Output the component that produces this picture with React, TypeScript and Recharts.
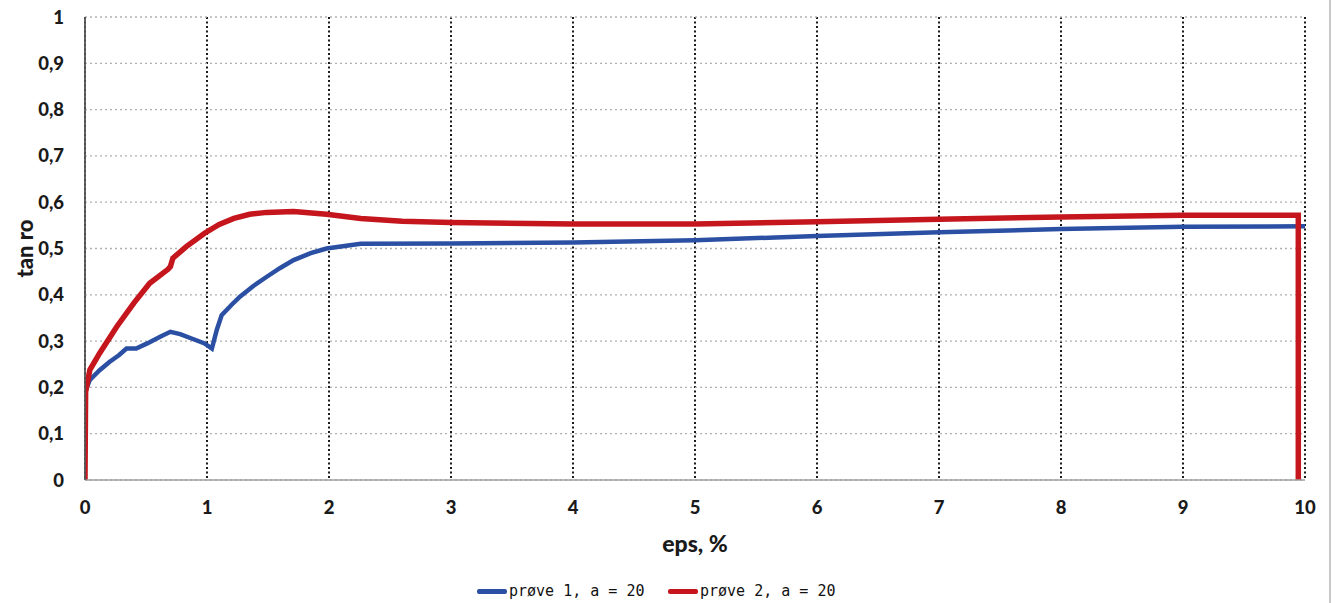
import React from 'react';
import { LineChart, Line, XAxis, YAxis, CartesianGrid, Legend } from 'recharts';

const blueX = [0, 0.04, 0.12, 0.2, 0.28, 0.34, 0.42, 0.51, 0.62, 0.7, 0.78, 0.89, 0.98, 1.04, 1.08, 1.12, 1.2, 1.27, 1.38, 1.49, 1.6, 1.71, 1.85, 1.98, 2.26, 3, 4, 5, 6, 7, 8, 9, 10];
const blueY = [0.19, 0.216, 0.237, 0.255, 0.27, 0.284, 0.284, 0.295, 0.31, 0.32, 0.315, 0.304, 0.295, 0.284, 0.324, 0.356, 0.378, 0.396, 0.419, 0.439, 0.458, 0.475, 0.49, 0.5, 0.51, 0.511, 0.513, 0.518, 0.527, 0.535, 0.542, 0.547, 0.548];

const redX = [0, 0.005, 0.04, 0.12, 0.26, 0.4, 0.53, 0.68, 0.7, 0.72, 0.83, 0.98, 1.1, 1.22, 1.35, 1.49, 1.71, 1.98, 2.26, 2.6, 3, 4, 5, 6, 7, 8, 9, 9.945, 9.945];
const redY = [0, 0.19, 0.238, 0.274, 0.331, 0.382, 0.425, 0.455, 0.461, 0.479, 0.504, 0.533, 0.552, 0.565, 0.574, 0.578, 0.58, 0.574, 0.565, 0.559, 0.556, 0.553, 0.553, 0.558, 0.563, 0.568, 0.572, 0.572, 0];

const xTicks = [0, 1, 2, 3, 4, 5, 6, 7, 8, 9, 10];
const yTicks = [0, 0.1, 0.2, 0.3, 0.4, 0.5, 0.6, 0.7, 0.8, 0.9, 1];

const seriesNames = ['prøve 1, a = 20', 'prøve 2, a = 20'];
const seriesColors = ['#2b50a3', '#c4161c'];

const blueData = blueX.map((x, i) => ({ x, y: blueY[i] }));
const redData = redX.map((x, i) => ({ x, y: redY[i] }));

const fmtY = (v: number) => (v === 0 ? '0' : v === 1 ? '1' : v.toFixed(1).replace('.', ','));

const tickStyle = { fontFamily: 'Lato', fontWeight: 900, fontSize: 18.5, fill: '#1a1a1a' };

const LegendContent = () => (
  <div style={{ position: 'relative', height: 43, width: 1305 }}>
    {seriesNames.map((n, i) => (
      <div
        key={n}
        style={{
          position: 'absolute',
          left: i === 0 ? 477 : 668,
          top: 22,
          display: 'flex',
          alignItems: 'center',
          height: 18,
        }}
      >
        <div style={{ width: 30, height: 5, background: seriesColors[i], borderRadius: 2, marginRight: 2 }} />
        <span style={{ fontFamily: 'DejaVu Sans Mono', fontSize: 15, color: '#111', lineHeight: '18px' }}>{n}</span>
      </div>
    ))}
  </div>
);

export default function App() {
  return (
    <div style={{ position: 'absolute', left: 0, top: 0, width: 1335, height: 603, background: '#fff' }}>
      <LineChart width={1335} height={603} margin={{ top: 17, right: 30, left: 0, bottom: 0 }}>
        <CartesianGrid horizontal={false} stroke="#1a1a1a" strokeWidth={2} strokeDasharray="2 2.5" />
        <CartesianGrid vertical={false} stroke="#b0b0b0" strokeWidth={1.3} strokeDasharray="2 3" />
        <XAxis
          type="number"
          dataKey="x"
          domain={[0, 10]}
          ticks={xTicks}
          height={80}
          tickLine={false}
          tickSize={6}
          tickMargin={15}
          axisLine={{ stroke: '#a0a0a0', strokeWidth: 1.5 }}
          tick={tickStyle}
          allowDataOverflow
          label={{
            value: 'eps, %',
            position: 'insideBottom',
            offset: 8,
            style: { fontFamily: 'Lato', fontWeight: 900, fontSize: 23, fill: '#1a1a1a' },
          }}
        />
        <YAxis
          type="number"
          domain={[0, 1]}
          ticks={yTicks}
          width={85}
          tickLine={false}
          tickSize={6}
          tickMargin={15}
          tickFormatter={fmtY}
          axisLine={{ stroke: '#555', strokeWidth: 1.8 }}
          tick={tickStyle}
          label={{
            value: 'tan ro',
            angle: -90,
            position: 'insideLeft',
            offset: 25,
            style: { textAnchor: 'middle', fontFamily: 'Lato', fontWeight: 900, fontSize: 22, fill: '#1a1a1a' },
          }}
        />
        <Legend verticalAlign="bottom" height={43} content={<LegendContent />} />
        <Line
          data={blueData}
          dataKey="y"
          name={seriesNames[0]}
          type="linear"
          stroke={seriesColors[0]}
          strokeWidth={4.5}
          dot={false}
          isAnimationActive={false}
        />
        <Line
          data={redData}
          dataKey="y"
          name={seriesNames[1]}
          type="linear"
          stroke={seriesColors[1]}
          strokeWidth={5.5}
          dot={false}
          isAnimationActive={false}
        />
      </LineChart>
      <div style={{ position: 'absolute', left: 1329, top: 0, width: 2, height: 603, background: '#c8c8c8' }} />
    </div>
  );
}
